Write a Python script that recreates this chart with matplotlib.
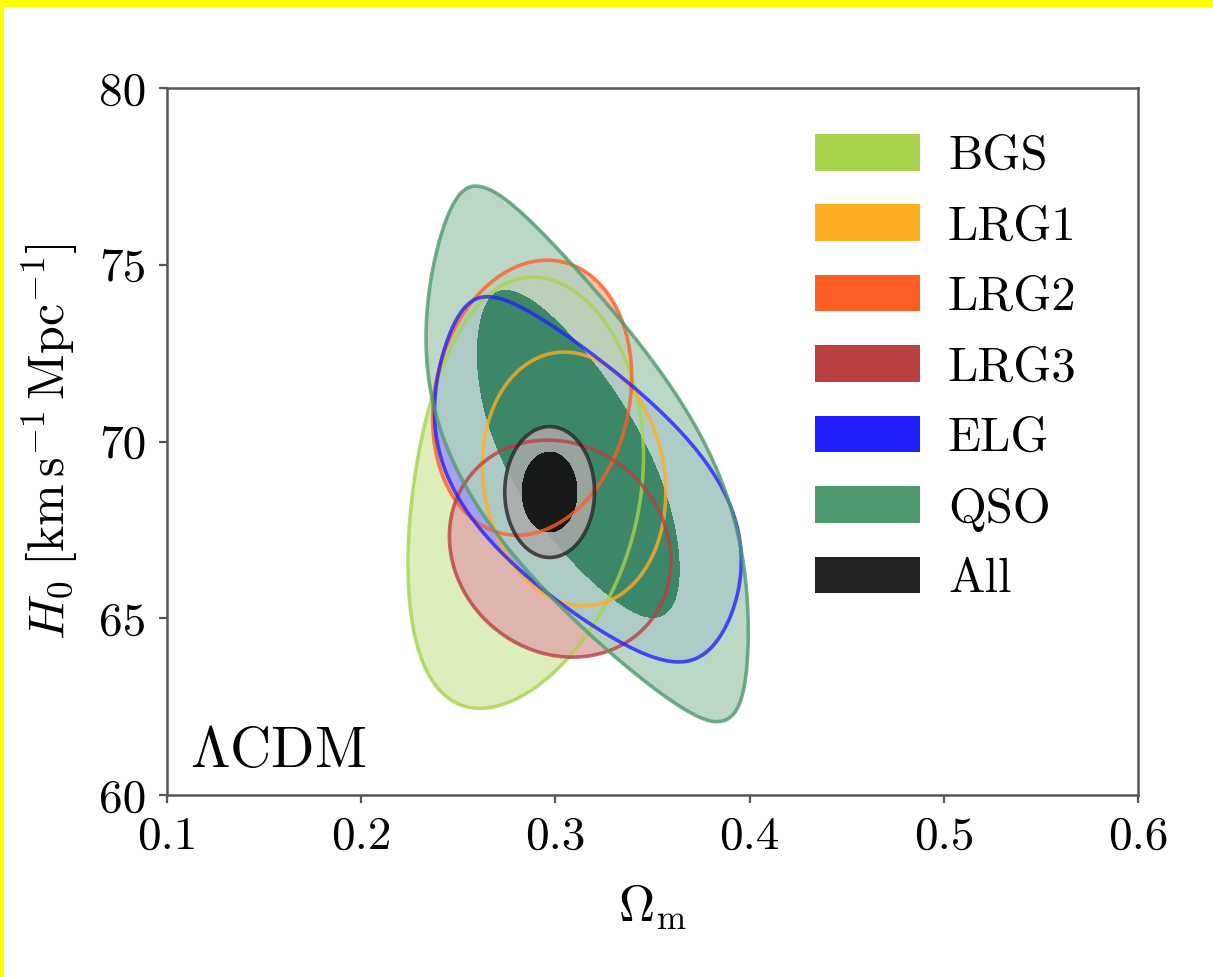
import numpy as np
import matplotlib
matplotlib.use('Agg')
import matplotlib.pyplot as plt
from matplotlib.patches import Patch, Rectangle

plt.rcParams['font.family'] = 'serif'
plt.rcParams['font.serif'] = ['cmr10']
plt.rcParams['mathtext.fontset'] = 'cm'
plt.rcParams['axes.unicode_minus'] = False
plt.rcParams['axes.formatter.use_mathtext'] = True

# ---------------- data ----------------
tracers = ['BGS', 'LRG1', 'LRG2', 'LRG3', 'ELG', 'QSO', 'All']
line_colors = ['#a8d44e', '#ffae24', '#ff5e24', '#b84040', '#2020ff', '#4e9a6e', '#222222']
fill_outer = ['#d8ecb0', '#ffdb9d', '#ffb79d', '#dfaaaa', '#9b9bff', '#b0d2be', '#aaaaaa']
fill_inner = [None, None, None, None, None, '#277c57', '#000000']
n_levels = [1, 1, 1, 1, 1, 2, 2]

# posterior shape parameters
h0_mean = [68.55, 68.94, 71.24, 66.97, 68.93, 69.65, 68.57]
h0_sigma = [2.455, 1.445, 1.566, 1.236, 2.08, 3.05, 0.745]
om_mean = [0.2853, 0.3096, 0.288, 0.3024, 0.3142, 0.30649, 0.297]
om_slope = [0.0055, -0.002, 0.0031, -0.0026, -0.0198, -0.0250, 0.0]
om_curv = [-0.0017, 0.0, 0.0, 0.0, 0.0, 0.00232, 0.0]
om_width = [0.0237, 0.0189, 0.0204, 0.0228, 0.0278, 0.02695, 0.0093]
om_asym = [0.0, 0.0, 0.0, 0.0, 0.0, 0.09, 0.0]
width_skew = [0.0, 0.0, 0.0, 0.0, -0.042, -0.02, 0.0]
width_taper = [0.0, 0.0, 0.0, 0.0, -0.068, -0.066, 0.0]
core = [0.0, 0.0, 0.0, 0.0, 0.0, 0.19, 0.0]
chi2_levels = [2.30, 6.17]   # 68% and 95% regions

x_ticks = [0.1, 0.2, 0.3, 0.4, 0.5, 0.6]
y_ticks = [60, 65, 70, 75, 80]

# ---------------- figure ----------------
fig = plt.figure(figsize=(12.13, 9.77), dpi=100)
ax = fig.add_axes([0.1377, 0.1863, 0.8005, 0.7236])

om = np.linspace(0.08, 0.62, 800)
h0 = np.linspace(58, 82, 800)
OM, H0 = np.meshgrid(om, h0)

chis = []
for i in range(len(tracers)):
    z = (H0 - h0_mean[i]) / h0_sigma[i]
    w = np.exp(width_skew[i] * z + width_taper[i] * z ** 2)
    m = om_mean[i] + om_slope[i] * z + om_curv[i] * z ** 2
    d = OM - m
    side = np.where(d > 0, 1 + om_asym[i], 1 - om_asym[i])
    u2 = (d / (om_width[i] * w * side)) ** 2
    g = u2 * (1 + core[i]) / (1 + core[i] * u2 / chi2_levels[1])
    chis.append(z ** 2 + g)

for i, chi in enumerate(chis):
    ax.contourf(OM, H0, chi, levels=[-1, chi2_levels[1]],
                colors=[fill_outer[i]], alpha=0.85, zorder=1 + 2 * i)
    if n_levels[i] == 2:
        ax.contourf(OM, H0, chi, levels=[-1, chi2_levels[0]],
                    colors=[fill_inner[i]], alpha=0.85, zorder=2 + 2 * i)

for i, chi in enumerate(chis):
    ax.contour(OM, H0, chi, levels=[chi2_levels[1]], colors=[line_colors[i]],
               linewidths=2.6, alpha=0.78, zorder=20 + i)

ax.set_xlim(0.1, 0.6)
ax.set_ylim(60, 80)
ax.set_xticks(x_ticks)
ax.set_yticks(y_ticks)
ax.set_xticklabels([f'{t:.1f}' for t in x_ticks])
ax.set_yticklabels([f'{t:d}' for t in y_ticks])
ax.tick_params(direction='out', length=6, width=1.6, color='#555555',
               labelsize=34, pad=9)
for sp in ax.spines.values():
    sp.set_linewidth(1.8)
    sp.set_color('#555555')
    sp.set_zorder(40)

ax.set_xlabel(r'$\Omega_\mathrm{m}$', fontsize=36, labelpad=18)
ax.set_ylabel(r'$H_0\;[\mathrm{km\,s^{-1}\,Mpc^{-1}}]$', fontsize=36, labelpad=14)

ax.text(0.024, 0.04, r'$\Lambda$CDM', transform=ax.transAxes, fontsize=41,
        ha='left', va='baseline', zorder=30)

handles = [Patch(facecolor=c, edgecolor='none') for c in line_colors]
leg = ax.legend(handles, tracers, loc='upper left', bbox_to_anchor=(0.667, 0.935),
                frameon=False, fontsize=35, handlelength=2.16, handleheight=0.78,
                handletextpad=0.58, labelspacing=0.52, borderpad=0, borderaxespad=0)
leg.set_zorder(50)

# yellow frame of the reference image
fig.patches.append(Rectangle((0, 1 - 7 / 977), 1, 7 / 977, transform=fig.transFigure,
                             facecolor='#ffff00', edgecolor='none', zorder=10))
fig.patches.append(Rectangle((0, 0), 4 / 1213, 1, transform=fig.transFigure,
                             facecolor='#ffff00', edgecolor='none', zorder=10))

fig.savefig('out.png', dpi=100)
